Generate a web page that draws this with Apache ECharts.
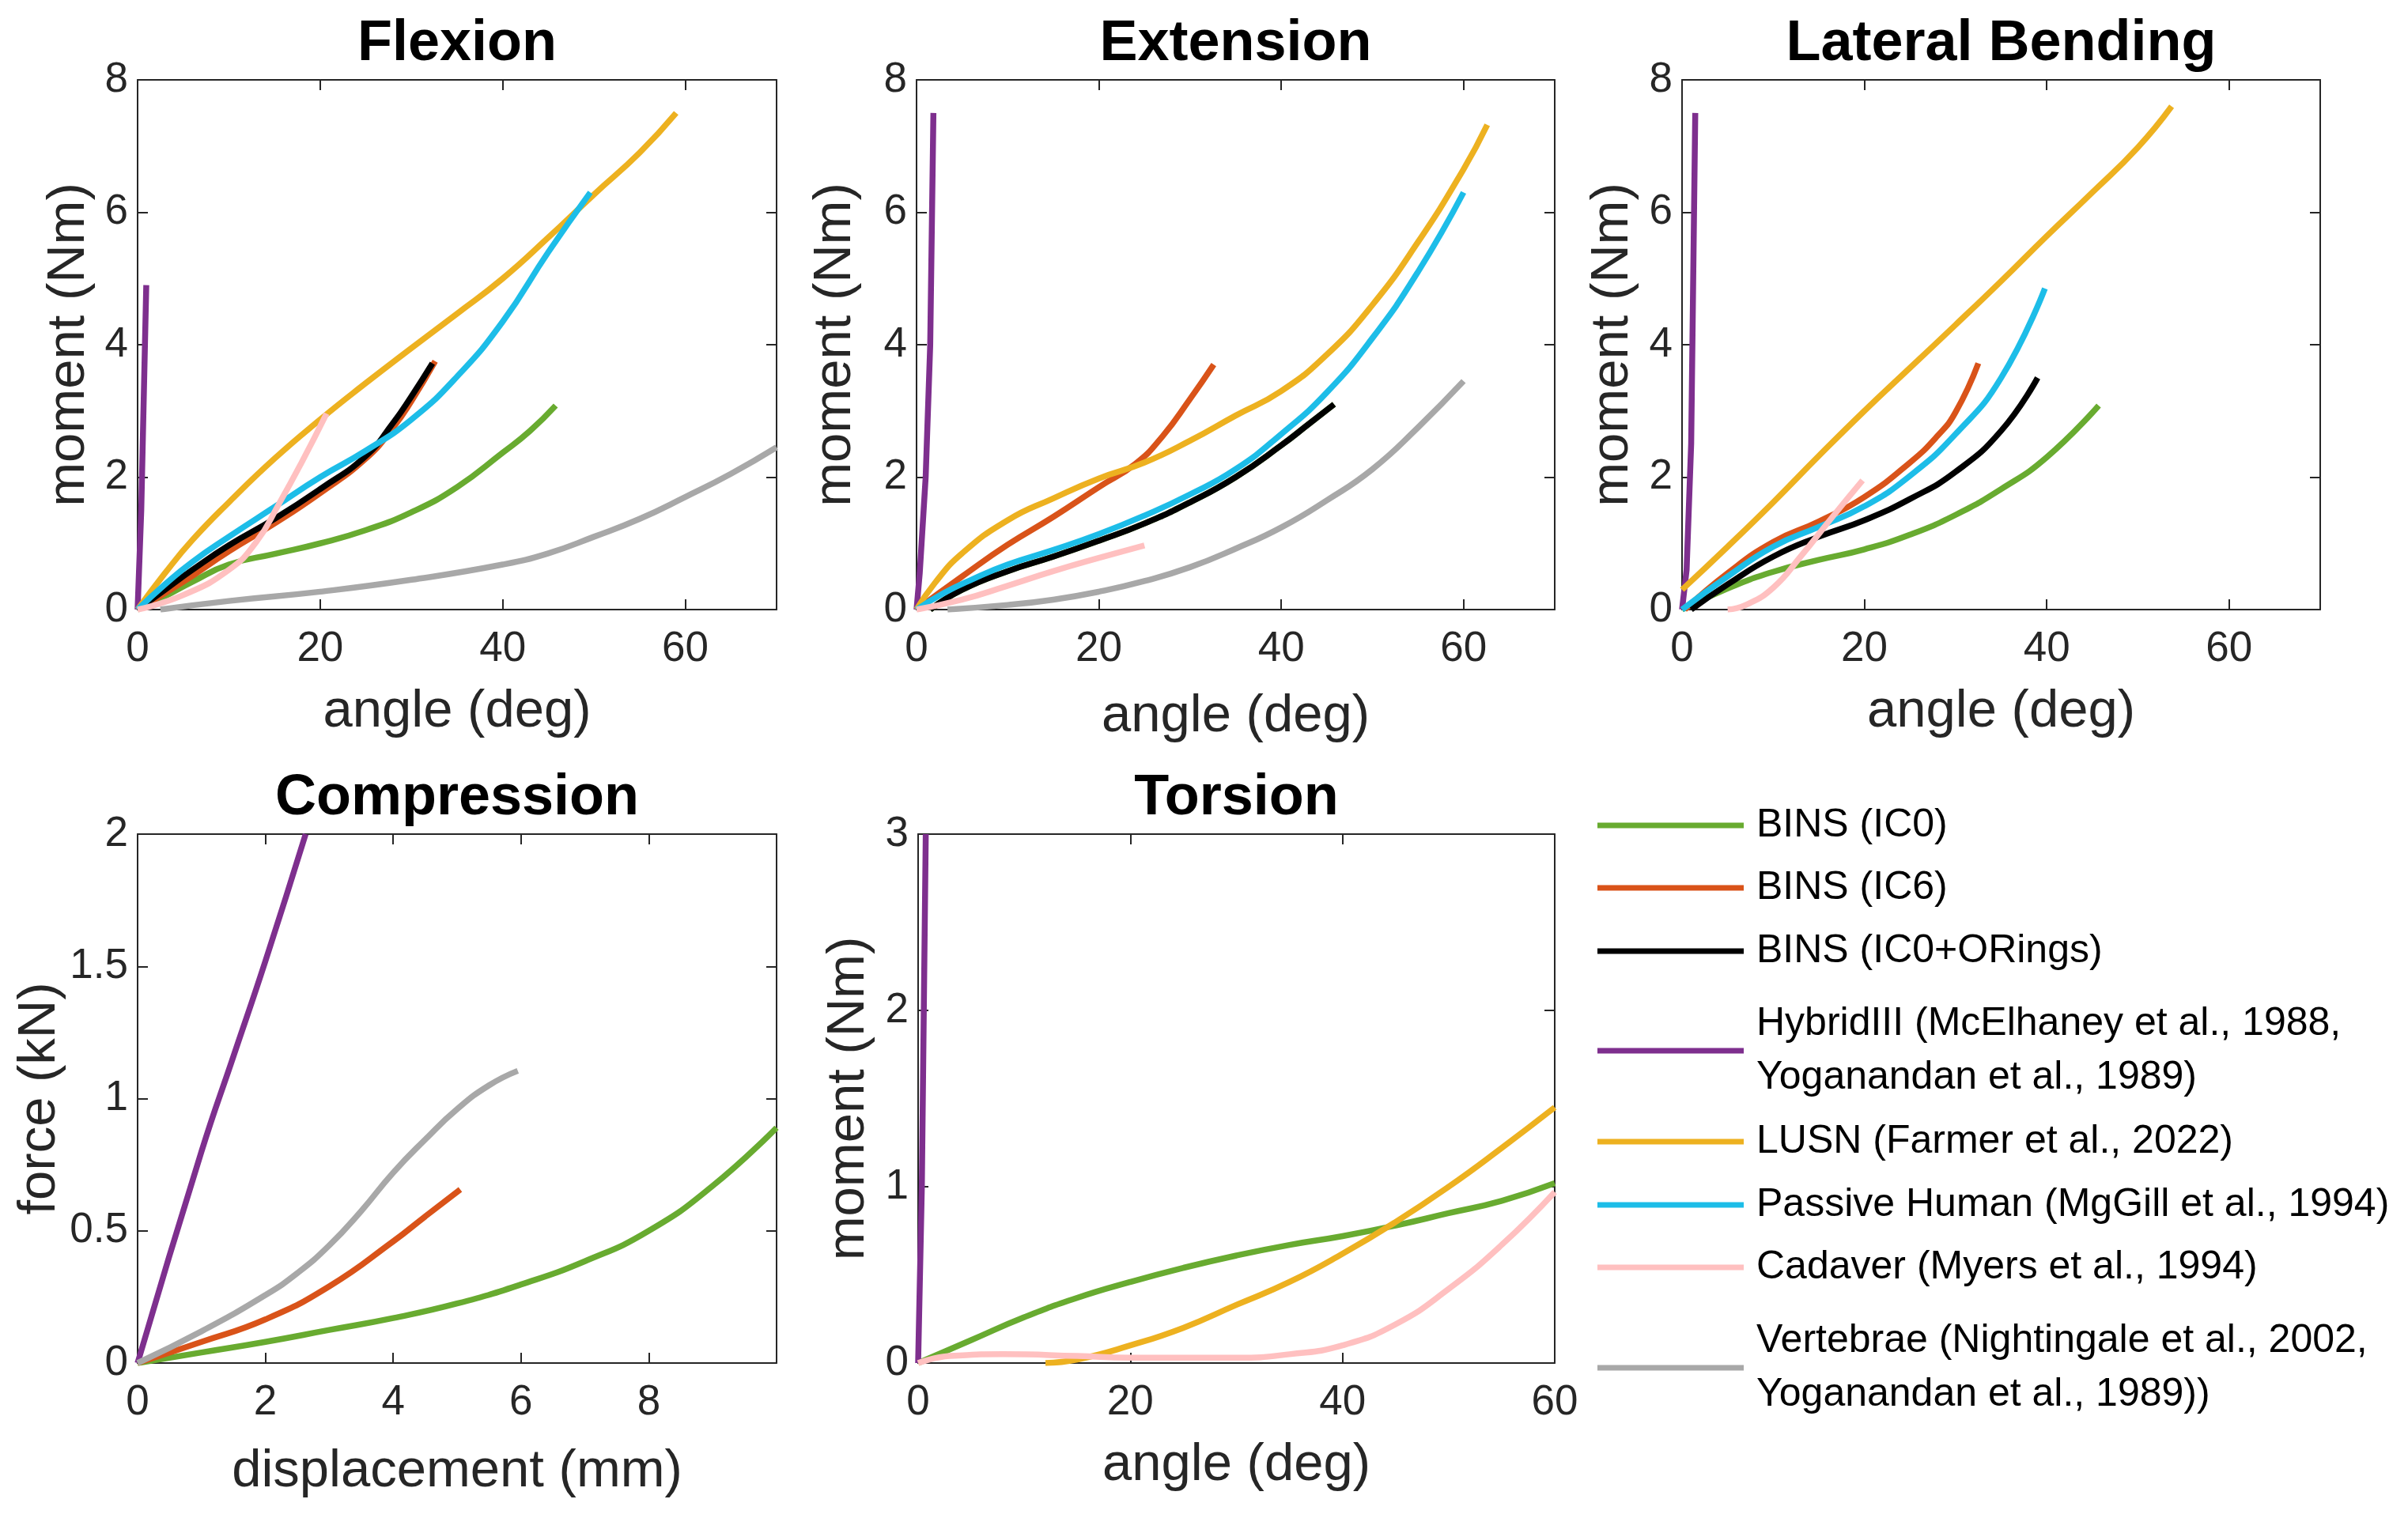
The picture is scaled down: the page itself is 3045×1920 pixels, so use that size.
<!DOCTYPE html>
<html>
<head>
<meta charset="utf-8">
<script src="https://cdn.jsdelivr.net/npm/echarts@6.0.0/dist/echarts.min.js"></script>
<style>
html,body{margin:0;padding:0;background:#ffffff;}
#chart{width:3045px;height:1920px;}
</style>
</head>
<body>
<div id="chart"></div>
<script>
// ---------------- DATA ----------------
const seriesNames = [
  'BINS (IC0)',
  'BINS (IC6)',
  'BINS (IC0+ORings)',
  'HybridIII (McElhaney et al., 1988,\nYoganandan et al., 1989)',
  'LUSN (Farmer et al., 2022)',
  'Passive Human (MgGill et al., 1994)',
  'Cadaver (Myers et al., 1994)',
  'Vertebrae (Nightingale et al., 2002,\nYoganandan et al., 1989))'
];

const panelTitles = ['Flexion', 'Extension', 'Lateral Bending', 'Compression', 'Torsion'];
const xAxisNames = ['angle (deg)', 'angle (deg)', 'angle (deg)', 'displacement (mm)', 'angle (deg)'];
const yAxisNames = ['moment (Nm)', 'moment (Nm)', 'moment (Nm)', 'force (kN)', 'moment (Nm)'];
const xMaxes = [70, 70, 70, 10, 60];
const xSteps = [20, 20, 20, 2, 20];
const yMaxes = [8, 8, 8, 2, 3];
const ySteps = [2, 2, 2, 0.5, 1];
const xTickLabels = [[0, 20, 40, 60], [0, 20, 40, 60], [0, 20, 40, 60], [0, 2, 4, 6, 8], [0, 20, 40, 60]];
const yTickLabels = [[0, 2, 4, 6, 8], [0, 2, 4, 6, 8], [0, 2, 4, 6, 8], [0, 0.5, 1, 1.5, 2], [0, 1, 2, 3]];

// Flexion
const flexIC0 = [[0,0],[3,0.2],[6,0.42],[10,0.68],[15,0.84],[20,1.0],[25,1.2],[30,1.47],[35,1.85],[40,2.37],[43,2.7],[45.8,3.08]];
const flexIC6 = [[0,0],[5,0.42],[10,0.88],[15,1.3],[20,1.76],[25,2.28],[28,2.75],[30,3.15],[32.6,3.75]];
const flexORings = [[0,0],[3,0.3],[6,0.6],[10,0.97],[15,1.37],[20,1.82],[25,2.32],[28,2.82],[30,3.22],[32.3,3.72]];
const flexHybrid = [[0,0],[0.4,1.5],[0.95,4.9]];
const flexLUSN = [[0,0],[3,0.55],[6,1.05],[10,1.62],[15,2.28],[20,2.87],[25,3.42],[30,3.95],[35,4.47],[40,5.0],[45,5.62],[50,6.27],[55,6.9],[59,7.5]];
const flexPassive = [[0,0],[3,0.38],[6,0.72],[10,1.1],[15,1.55],[20,2.0],[25,2.4],[30,2.87],[35,3.52],[40,4.35],[45,5.4],[49.6,6.3]];
const flexCadaver = [[0,0],[5,0.22],[10,0.6],[13,1.02],[15.5,1.6],[18,2.23],[20.7,2.96]];
const flexVertebrae = [[2.5,0],[10,0.13],[20,0.27],[30,0.45],[40,0.68],[45,0.85],[50,1.1],[55,1.37],[60,1.7],[65,2.05],[70,2.45]];

// Extension
const extIC0 = [[1.5,0],[5,0.3],[10,0.58],[15,0.8],[20,1.04],[25,1.3],[30,1.62],[35,2.0],[40,2.48],[43,2.8],[45.8,3.1]];
const extIC6 = [[0,0],[5,0.5],[10,0.98],[15,1.4],[20,1.85],[24,2.2],[27,2.62],[30,3.18],[32.6,3.7]];
const extORings = [[1.5,0],[5,0.3],[10,0.58],[15,0.8],[20,1.04],[25,1.3],[30,1.62],[35,2.0],[40,2.48],[43,2.8],[45.8,3.1]];
const extHybrid = [[0,0],[0.35,0.55],[1.0,2.0],[1.5,4.0],[1.85,7.5]];
const extLUSN = [[0,0],[2,0.4],[5,0.85],[10,1.35],[15,1.68],[20,1.98],[25,2.22],[30,2.55],[35,2.93],[40,3.3],[45,3.85],[50,4.6],[55,5.55],[60,6.65],[62.6,7.32]];
const extPassive = [[0,0],[3,0.25],[6,0.45],[10,0.68],[15,0.9],[20,1.14],[25,1.42],[30,1.74],[35,2.12],[40,2.65],[45,3.28],[50,4.1],[55,5.1],[60,6.3]];
const extCadaver = [[0,0],[5,0.15],[10,0.36],[15,0.58],[20,0.78],[25,0.97]];
const extVertebrae = [[3.4,0],[10,0.07],[15,0.15],[20,0.27],[25,0.43],[30,0.64],[35,0.92],[40,1.24],[45,1.65],[50,2.12],[55,2.75],[60,3.45]];

// Lateral bending
const latIC0 = [[0,0],[5,0.32],[10,0.57],[15,0.75],[20,0.91],[25,1.13],[30,1.43],[35,1.82],[40,2.3],[45.7,3.08]];
const latIC6 = [[0.3,0],[5,0.55],[10,1.02],[15,1.33],[20,1.7],[25,2.22],[28,2.62],[30,2.98],[32.5,3.72]];
const latORings = [[1,0],[5,0.38],[10,0.8],[15,1.1],[20,1.35],[25,1.67],[30,2.08],[35,2.7],[39,3.5]];
const latHybrid = [[0,0],[0.5,0.6],[1.0,2.5],[1.45,7.5]];
const latLUSN = [[0,0.3],[5,0.95],[10,1.62],[15,2.32],[20,3.0],[25,3.65],[30,4.3],[35,4.96],[40,5.64],[45,6.3],[50,6.98],[53.7,7.6]];
const latPassive = [[0,0],[5,0.5],[10,0.95],[15,1.25],[20,1.56],[25,2.02],[30,2.65],[35,3.5],[39.8,4.85]];
const latCadaver = [[5,0],[7,0.07],[10,0.33],[13,0.8],[16.5,1.4],[19.8,1.95]];

// Compression
const compIC0 = [[0,0],[1,0.04],[2,0.08],[3,0.125],[4,0.17],[5,0.225],[6,0.297],[7,0.385],[8,0.5],[9,0.67],[10,0.89]];
const compIC6 = [[0,0],[1,0.08],[2,0.165],[3,0.29],[4,0.46],[4.5,0.554],[5.05,0.656]];
const compHybrid = [[0,0],[1,0.8],[1.5,1.16],[2,1.52],[2.63,2.0]];
const compVertebrae = [[0,0],[1,0.12],[2,0.257],[2.5,0.34],[3,0.445],[3.5,0.575],[4,0.72],[4.5,0.845],[5,0.96],[5.5,1.05],[5.95,1.105]];

// Torsion
const torIC0 = [[0,0],[5,0.13],[10,0.26],[15,0.37],[20,0.46],[25,0.54],[30,0.61],[35,0.67],[40,0.72],[45,0.78],[50,0.85],[55,0.92],[60,1.02]];
const torHybrid = [[0,0],[0.35,1],[0.72,3]];
const torLUSN = [[12,0],[15,0.02],[20,0.1],[25,0.2],[30,0.33],[35,0.46],[40,0.62],[45,0.8],[50,1.0],[55,1.22],[60,1.45]];
const torCadaver = [[0,0],[3,0.04],[8,0.05],[15,0.04],[20,0.03],[25,0.03],[30,0.03],[35,0.05],[40,0.1],[45,0.22],[50,0.42],[55,0.67],[60,0.97]];

const panelData = [
  [flexIC0, flexIC6, flexORings, flexHybrid, flexLUSN, flexPassive, flexCadaver, flexVertebrae],
  [extIC0, extIC6, extORings, extHybrid, extLUSN, extPassive, extCadaver, extVertebrae],
  [latIC0, latIC6, latORings, latHybrid, latLUSN, latPassive, latCadaver, null],
  [compIC0, compIC6, null, compHybrid, null, null, null, compVertebrae],
  [torIC0, null, null, torHybrid, torLUSN, null, torCadaver, null]
];

// ---------------- STYLE / LAYOUT ----------------
const seriesColors = ['#68ab30', '#d95319', '#000000', '#7e2f8e', '#edb120', '#1dbde8', '#ffc0c0', '#a8a8a8'];
const gridRects = [
  [174, 101, 808, 670],
  [1159, 101, 807, 670],
  [2127, 101, 807, 670],
  [174, 1055, 808, 669],
  [1161, 1055, 805, 669]
];
const yNameGaps = [53, 69, 54, 82, 54];
const xNameGaps = [96, 102, 96, 104, 96];
const legendLeft = 2020;
const legendTops = [1010, 1089, 1169, 1261, 1410, 1490, 1569, 1662];

const FONT = "'Liberation Sans', Arial, Helvetica, sans-serif";
const AX = '#262626';

const grids = [], xAxes = [], yAxes = [], series = [], graphics = [];

gridRects.forEach((r, i) => {
  grids.push({ left: r[0], top: r[1], width: r[2], height: r[3], outerBoundsMode: 'none', containLabel: false });
  const lineStyle = { color: AX, width: 2 };
  const tick = { show: true, inside: true, length: 13, lineStyle: { color: AX, width: 2 } };
  const xl = xTickLabels[i], yl = yTickLabels[i];
  xAxes.push({
    type: 'value', gridIndex: i, position: 'bottom', min: 0, max: xMaxes[i], interval: xSteps[i],
    axisLine: { show: true, onZero: false, lineStyle },
    axisTick: tick,
    splitLine: { show: false },
    axisLabel: {
      show: true, margin: 24, color: AX, fontSize: 53, fontFamily: FONT,
      formatter: v => (xl.some(t => Math.abs(t - v) < 1e-9) ? String(v) : '')
    },
    name: xAxisNames[i], nameLocation: 'middle', nameGap: xNameGaps[i],
    nameTextStyle: { color: AX, fontSize: 67, fontFamily: FONT }
  });
  xAxes.push({
    type: 'value', gridIndex: i, position: 'top', min: 0, max: xMaxes[i], interval: xSteps[i],
    axisLine: { show: true, onZero: false, lineStyle },
    axisTick: tick, splitLine: { show: false }, axisLabel: { show: false }
  });
  yAxes.push({
    type: 'value', gridIndex: i, position: 'left', min: 0, max: yMaxes[i], interval: ySteps[i],
    axisLine: { show: true, onZero: false, lineStyle },
    axisTick: tick,
    splitLine: { show: false },
    axisLabel: {
      show: true, margin: 12, color: AX, fontSize: 53, fontFamily: FONT,
      formatter: v => (yl.some(t => Math.abs(t - v) < 1e-9) ? String(v) : '')
    },
    name: yAxisNames[i], nameLocation: 'middle', nameGap: yNameGaps[i], nameRotate: 90,
    nameTextStyle: { color: AX, fontSize: 67, fontFamily: FONT }
  });
  yAxes.push({
    type: 'value', gridIndex: i, position: 'right', min: 0, max: yMaxes[i], interval: ySteps[i],
    axisLine: { show: true, onZero: false, lineStyle },
    axisTick: tick, splitLine: { show: false }, axisLabel: { show: false }
  });

  panelData[i].forEach((d, k) => {
    if (!d) return;
    const nearVertical = (k === 3 && i !== 3);
    series.push({
      type: 'line', name: seriesNames[k], data: d,
      xAxisIndex: 2 * i, yAxisIndex: 2 * i,
      symbol: 'none', showSymbol: false,
      smooth: nearVertical ? false : 0.5,
      clip: true,
      lineStyle: { width: 7.5, color: seriesColors[k], cap: 'butt', join: 'round' },
      itemStyle: { color: seriesColors[k] },
      emphasis: { disabled: true },
      animation: false
    });
  });

  graphics.push({
    type: 'text', x: r[0] + r[2] / 2, y: r[1] - 45,
    style: {
      text: panelTitles[i], fill: '#000000', fontSize: 72, fontWeight: 'bold', fontFamily: FONT,
      align: 'center', verticalAlign: 'middle'
    }
  });
});

const legends = seriesNames.map((nm, k) => ({
  show: true, data: [nm], left: legendLeft, top: legendTops[k], orient: 'vertical',
  icon: 'rect', itemWidth: 185, itemHeight: 7, itemGap: 0, padding: 0,
  selectedMode: false,
  textStyle: { color: '#000000', fontSize: 50, fontFamily: FONT, lineHeight: 68, padding: [0, 0, 0, 11] }
}));

const chart = echarts.init(document.getElementById('chart'), null, { renderer: 'canvas' });
chart.setOption({
  backgroundColor: '#ffffff',
  animation: false,
  color: seriesColors,
  grid: grids,
  xAxis: xAxes,
  yAxis: yAxes,
  legend: legends,
  series: series,
  graphic: graphics
});
</script>
</body>
</html>
